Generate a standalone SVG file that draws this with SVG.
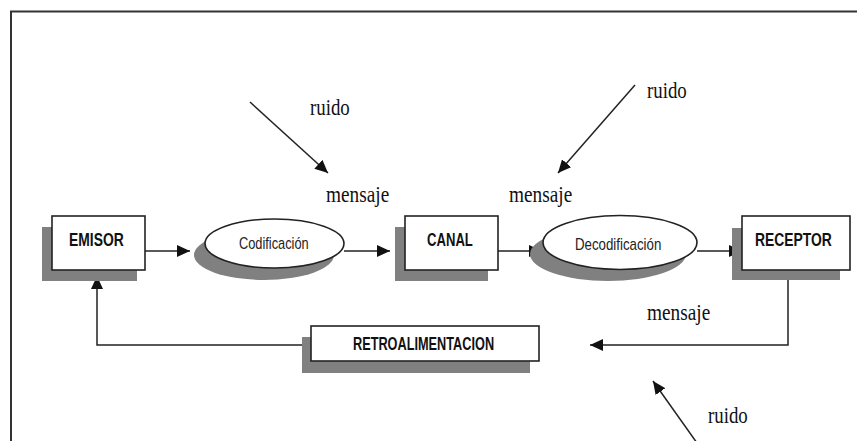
<svg xmlns="http://www.w3.org/2000/svg" width="857" height="441" viewBox="0 0 857 441">
  <style>
    .shadow { fill: #808080; stroke: none; }
    .box { fill: #ffffff; stroke: #222222; stroke-width: 1.6; }
    .lbl { font-family: "Liberation Sans", Arial, sans-serif; font-weight: bold; font-size: 19px; fill: #111111; }
    .olbl { font-family: "Liberation Sans", Arial, sans-serif; font-size: 16px; fill: #222222; }
    .note { font-family: "Liberation Serif", "Times New Roman", serif; font-size: 23px; fill: #111111; }
    .wire { fill: none; stroke: #222222; stroke-width: 1.5; }
  </style>
  <defs>
    <marker id="head" markerUnits="userSpaceOnUse" markerWidth="14" markerHeight="12" refX="13" refY="6" orient="auto">
      <path d="M0,0 L13,6 L0,12 Z" fill="#111111"/>
    </marker>
  </defs>

  <rect width="857" height="441" fill="#ffffff"/>
  <!-- outer frame -->
  <path d="M11,441 L11,11.5 L857,11.5" fill="none" stroke="#333333" stroke-width="2"/>

  <!-- connectors -->
  <g id="connectors">
    <line class="wire" x1="145" y1="251" x2="190" y2="251" marker-end="url(#head)"/>
    <line class="wire" x1="344" y1="251" x2="390" y2="251" marker-end="url(#head)"/>
    <line class="wire" x1="498" y1="251" x2="542" y2="251" marker-end="url(#head)"/>
    <line class="wire" x1="697" y1="251" x2="742" y2="251" marker-end="url(#head)"/>
    <polyline class="wire" points="788,270 788,345 590,345" marker-end="url(#head)"/>
    <polyline class="wire" points="311,345 97,345 97,276" marker-end="url(#head)"/>
    <line class="wire" x1="250" y1="102" x2="328" y2="173" marker-end="url(#head)"/>
    <line class="wire" x1="635" y1="85" x2="558" y2="173" marker-end="url(#head)"/>
    <line class="wire" x1="697" y1="443" x2="653" y2="381" marker-end="url(#head)"/>
  </g>

  <!-- labels on connectors (narrow serif) -->
  <g id="notes">
    <text class="note" transform="translate(310,115) scale(0.82,1)">ruido</text>
    <text class="note" transform="translate(647,98) scale(0.82,1)">ruido</text>
    <text class="note" transform="translate(708,423) scale(0.82,1)">ruido</text>
    <text class="note" transform="translate(326,202) scale(0.84,1)">mensaje</text>
    <text class="note" transform="translate(509,202) scale(0.84,1)">mensaje</text>
    <text class="note" transform="translate(647,320) scale(0.84,1)">mensaje</text>
  </g>

  <g id="emisor">
    <rect class="shadow" x="42" y="227" width="95" height="54"/>
    <rect class="box" x="52" y="216" width="93" height="54"/>
    <text class="lbl" transform="translate(69,246) scale(0.73,1)">EMISOR</text>
  </g>

  <g id="codificacion">
    <ellipse class="shadow" cx="264" cy="255" rx="70" ry="25"/>
    <ellipse class="box" cx="274.5" cy="243.5" rx="69.5" ry="24.5"/>
    <text class="olbl" transform="translate(239,249) scale(0.8,1)">Codificación</text>
  </g>

  <g id="canal">
    <rect class="shadow" x="395" y="227" width="93" height="54"/>
    <rect class="box" x="405" y="216" width="93" height="54"/>
    <text class="lbl" transform="translate(427,246) scale(0.69,1)">CANAL</text>
  </g>

  <g id="decodificacion">
    <ellipse class="shadow" cx="608" cy="254" rx="78" ry="27"/>
    <ellipse class="box" cx="620" cy="242.5" rx="77" ry="27"/>
    <text class="olbl" transform="translate(575,250) scale(0.83,1)">Decodificación</text>
  </g>

  <g id="receptor">
    <rect class="shadow" x="732" y="228" width="108" height="52"/>
    <rect class="box" x="742" y="216" width="108" height="54"/>
    <text class="lbl" transform="translate(755,246) scale(0.73,1)">RECEPTOR</text>
  </g>

  <g id="retroalimentacion">
    <rect class="shadow" x="302" y="337" width="228" height="36"/>
    <rect class="box" x="311" y="326" width="228" height="35"/>
    <text class="lbl" transform="translate(353,350) scale(0.67,1)">RETROALIMENTACION</text>
  </g>
</svg>
